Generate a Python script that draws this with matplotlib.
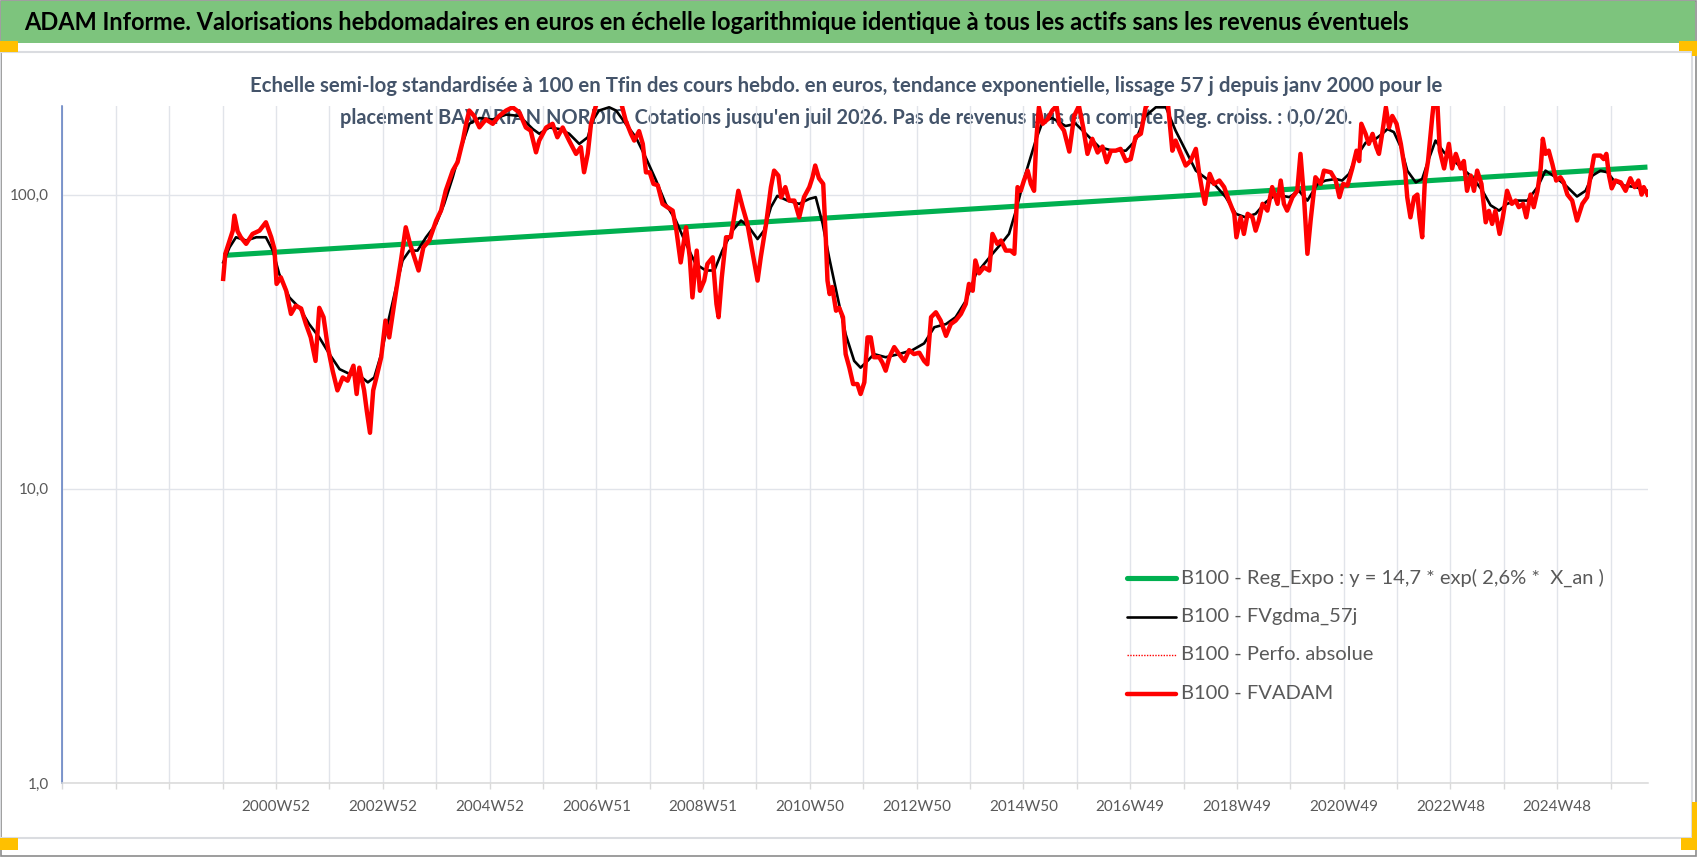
import matplotlib
matplotlib.use("Agg")
import matplotlib.pyplot as plt
from matplotlib.patches import Rectangle
from matplotlib.lines import Line2D

plt.rcParams['font.family'] = ['Lato', 'DejaVu Sans']

# ---- data (x in decimal years) ----
red_x = [2000.01, 2000.05, 2000.19, 2000.22, 2000.28, 2000.34, 2000.44, 2000.56, 2000.69, 2000.81,
         2000.91, 2000.97, 2001.01, 2001.09, 2001.19, 2001.28, 2001.37, 2001.47, 2001.56, 2001.65,
         2001.74, 2001.81, 2001.89, 2001.97, 2002.06, 2002.15, 2002.25, 2002.34, 2002.45, 2002.51,
         2002.56, 2002.65, 2002.70, 2002.76, 2002.82, 2002.88, 2002.97, 2003.05, 2003.12, 2003.25,
         2003.34, 2003.43, 2003.51, 2003.59, 2003.67, 2003.76, 2003.87, 2004.00, 2004.09, 2004.18,
         2004.31, 2004.40, 2004.50, 2004.56, 2004.62, 2004.71, 2004.81, 2004.93, 2005.06, 2005.18,
         2005.31, 2005.43, 2005.56, 2005.68, 2005.77, 2005.87, 2005.93, 2006.06, 2006.18, 2006.27,
         2006.37, 2006.49, 2006.62, 2006.71, 2006.77, 2006.84, 2006.90, 2006.99, 2007.05, 2007.15,
         2007.25, 2007.35, 2007.45, 2007.55, 2007.65, 2007.71, 2007.80, 2007.87, 2007.93, 2008.00,
         2008.07, 2008.15, 2008.24, 2008.33, 2008.43, 2008.50, 2008.58, 2008.68, 2008.75, 2008.80,
         2008.88, 2008.94, 2009.02, 2009.08, 2009.18, 2009.25, 2009.29, 2009.35, 2009.43, 2009.52,
         2009.58, 2009.66, 2009.74, 2009.83, 2009.93, 2010.02, 2010.08, 2010.18, 2010.27, 2010.33,
         2010.41, 2010.46, 2010.54, 2010.61, 2010.71, 2010.80, 2010.89, 2010.99, 2011.05, 2011.10,
         2011.17, 2011.25, 2011.30, 2011.33, 2011.37, 2011.42, 2011.49, 2011.55, 2011.62, 2011.67,
         2011.74, 2011.81, 2011.89, 2011.95, 2012.02, 2012.08, 2012.14, 2012.20, 2012.30, 2012.36,
         2012.42, 2012.49, 2012.58, 2012.67, 2012.77, 2012.86, 2012.95, 2013.05, 2013.14, 2013.20,
         2013.27, 2013.36, 2013.45, 2013.55, 2013.64, 2013.73, 2013.83, 2013.92, 2013.98, 2014.05,
         2014.10, 2014.17, 2014.26, 2014.36, 2014.42, 2014.51, 2014.58, 2014.67, 2014.76, 2014.83,
         2014.89, 2014.95, 2015.01, 2015.08, 2015.14, 2015.20, 2015.24, 2015.29, 2015.36, 2015.45,
         2015.54, 2015.62, 2015.67, 2015.76, 2015.86, 2015.95, 2016.04, 2016.12, 2016.20, 2016.29,
         2016.39, 2016.48, 2016.56, 2016.64, 2016.73, 2016.82, 2016.92, 2017.01, 2017.10, 2017.20,
         2017.29, 2017.40, 2017.50, 2017.60, 2017.70, 2017.79, 2017.85, 2017.95, 2018.04, 2018.13,
         2018.23, 2018.29, 2018.35, 2018.40, 2018.49, 2018.57, 2018.67, 2018.76, 2018.85, 2018.95,
         2018.99, 2019.07, 2019.13, 2019.20, 2019.29, 2019.35, 2019.41, 2019.48, 2019.57, 2019.66,
         2019.76, 2019.82, 2019.88, 2019.94, 2020.04, 2020.13, 2020.19, 2020.26, 2020.32, 2020.38,
         2020.47, 2020.57, 2020.63, 2020.76, 2020.85, 2020.92, 2020.99, 2021.07, 2021.16, 2021.24,
         2021.29, 2021.33, 2021.41, 2021.47, 2021.54, 2021.61, 2021.66, 2021.72, 2021.79, 2021.85,
         2021.91, 2021.99, 2022.07, 2022.15, 2022.19, 2022.25, 2022.32, 2022.38, 2022.42, 2022.47,
         2022.52, 2022.58, 2022.66, 2022.70, 2022.75, 2022.80, 2022.88, 2022.97, 2023.03, 2023.10,
         2023.19, 2023.25, 2023.31, 2023.38, 2023.44, 2023.50, 2023.58, 2023.66, 2023.72, 2023.78,
         2023.84, 2023.92, 2023.98, 2024.06, 2024.15, 2024.22, 2024.28, 2024.36, 2024.42, 2024.50,
         2024.56, 2024.63, 2024.69, 2024.73, 2024.78, 2024.84, 2024.91, 2024.98, 2025.06, 2025.12,
         2025.19, 2025.28, 2025.37, 2025.47, 2025.56, 2025.62, 2025.69, 2025.81, 2025.87, 2025.92,
         2025.97, 2026.02, 2026.09, 2026.19, 2026.28, 2026.37, 2026.45, 2026.52, 2026.58, 2026.62,
         2026.69]
red_y = [51.7, 62.9, 75.4, 84.8, 75.0, 71.6, 68.0, 73.5, 75.4, 80.5,
         71.6, 65.3, 49.7, 52.3, 47.1, 39.3, 41.9, 41.0, 36.3, 32.7,
         27.2, 41.2, 38.3, 30.3, 25.2, 21.6, 23.9, 23.3, 26.2, 21.0,
         25.8, 21.6, 18.4, 15.5, 21.6, 23.9, 28.0, 37.3, 32.7, 47.1,
         59.7, 77.4, 68.0, 61.2, 55.2, 66.2, 69.8, 81.6, 88.2, 103.2,
         120.6, 128.8, 152.6, 173.9, 193.0, 185.0, 169.3, 180.0, 174.0, 185.0,
         193.0, 198.0, 190.0, 169.0, 165.0, 139.2, 152.6, 169.0, 174.0, 156.6,
         169.0, 152.6, 137.5, 145.0, 119.1, 138.0, 174.0, 200.0, 210.0, 205.0,
         212.0, 206.0, 210.0, 178.5, 160.8, 152.6, 164.3, 148.7, 119.0, 119.0,
         108.7, 107.6, 93.0, 90.6, 88.2, 75.4, 58.8, 77.4, 61.2, 44.7,
         64.5, 47.1, 51.0, 58.1, 61.2, 42.5, 38.3, 52.3, 71.6, 71.6,
         83.7, 103.0, 90.6, 79.5, 62.9, 51.0, 61.2, 79.5, 105.9, 120.6,
         116.0, 97.9, 106.0, 95.4, 95.4, 83.7, 98.0, 106.0, 114.5, 125.5,
         113.6, 108.7, 69.8, 51.0, 45.9, 48.5, 40.3, 41.2, 38.3, 28.7,
         25.8, 22.7, 22.7, 21.0, 23.0, 32.7, 32.7, 28.0, 28.0, 26.8,
         25.2, 28.0, 30.3, 28.7, 27.2, 29.6, 28.7, 29.0, 27.2, 26.5,
         38.3, 39.8, 37.3, 33.1, 36.3, 37.3, 39.3, 42.5, 49.7, 47.1,
         59.7, 54.0, 56.6, 55.2, 73.5, 68.0, 69.8, 64.5, 64.5, 62.9,
         106.0, 103.0, 111.6, 120.6, 108.7, 103.0, 152.6, 198.0, 174.0, 180.0,
         193.0, 200.0, 174.0, 165.0, 140.0, 185.0, 200.0, 169.0, 137.5, 154.7,
         139.0, 145.6, 128.8, 141.0, 141.0, 143.0, 130.0, 132.0, 156.6, 161.0,
         198.0, 212.0, 208.0, 215.0, 210.0, 141.0, 152.6, 137.5, 125.5, 130.0,
         143.0, 119.0, 103.0, 93.0, 117.6, 108.7, 111.6, 106.0, 95.4, 86.0,
         71.6, 83.7, 73.5, 86.0, 83.7, 75.4, 81.6, 93.0, 88.2, 106.0,
         93.0, 111.6, 93.0, 88.2, 98.0, 103.0, 137.5, 95.4, 62.9, 81.6,
         114.5, 108.7, 120.6, 119.0, 111.6, 98.0, 108.7, 107.3, 122.7, 141.0,
         130.0, 174.0, 160.8, 148.7, 160.8, 145.0, 137.5, 160.8, 198.0, 169.0,
         185.0, 174.0, 148.7, 120.6, 97.9, 83.7, 98.0, 100.0, 83.7, 71.6,
         111.6, 130.0, 185.0, 215.0, 212.0, 141.0, 122.7, 148.7, 122.7, 137.5,
         122.7, 130.0, 103.0, 116.0, 103.0, 120.6, 108.7, 80.5, 88.0, 79.5,
         88.0, 73.5, 83.7, 103.0, 93.0, 95.4, 90.6, 93.0, 83.7, 100.0,
         90.6, 103.0, 122.7, 154.7, 137.5, 141.0, 126.6, 111.6, 114.5, 110.0,
         100.0, 95.4, 81.6, 93.0, 98.0, 114.5, 135.7, 135.7, 132.0, 137.5,
         116.0, 105.0, 111.6, 110.0, 103.0, 113.6, 106.0, 111.6, 100.0, 106.0,
         100.0]

black_x = [2000.01, 2000.13, 2000.25, 2000.44, 2000.63, 2000.81, 2000.94, 2001.06, 2001.25, 2001.44,
           2001.62, 2001.81, 2002.00, 2002.19, 2002.37, 2002.56, 2002.72, 2002.84, 2002.97, 2003.09,
           2003.25, 2003.37, 2003.50, 2003.65, 2003.81, 2004.00, 2004.15, 2004.31, 2004.46, 2004.62,
           2004.81, 2005.06, 2005.31, 2005.56, 2005.81, 2005.93, 2006.12, 2006.31, 2006.49, 2006.68,
           2006.84, 2006.93, 2007.05, 2007.24, 2007.37, 2007.55, 2007.74, 2007.93, 2008.12, 2008.30,
           2008.49, 2008.68, 2008.86, 2009.05, 2009.21, 2009.36, 2009.55, 2009.71, 2009.86, 2010.02,
           2010.14, 2010.27, 2010.39, 2010.58, 2010.80, 2010.99, 2011.11, 2011.24, 2011.36, 2011.52,
           2011.67, 2011.83, 2011.95, 2012.08, 2012.20, 2012.42, 2012.67, 2012.92, 2013.14, 2013.33,
           2013.55, 2013.73, 2013.92, 2014.11, 2014.42, 2014.61, 2014.73, 2014.86, 2015.04, 2015.23,
           2015.36, 2015.54, 2015.79, 2015.98, 2016.17, 2016.42, 2016.67, 2016.92, 2017.10, 2017.29,
           2017.48, 2017.67, 2017.85, 2018.04, 2018.23, 2018.42, 2018.60, 2018.79, 2018.98, 2019.16,
           2019.35, 2019.54, 2019.73, 2019.98, 2020.16, 2020.32, 2020.51, 2020.66, 2020.85, 2020.97,
           2021.10, 2021.22, 2021.41, 2021.60, 2021.72, 2021.82, 2021.94, 2022.07, 2022.19, 2022.35,
           2022.47, 2022.60, 2022.72, 2022.88, 2023.03, 2023.22, 2023.41, 2023.60, 2023.75, 2023.91,
           2024.06, 2024.25, 2024.44, 2024.63, 2024.78, 2024.97, 2025.16, 2025.37, 2025.53, 2025.66,
           2025.81, 2025.94, 2026.06, 2026.25, 2026.47, 2026.69]
black_y = [58.8, 66.2, 71.6, 69.8, 71.6, 71.6, 64.5, 53.7, 44.7, 41.2,
           36.3, 32.7, 28.7, 25.5, 24.6, 24.3, 23.0, 23.9, 28.7, 36.3,
           48.5, 59.7, 64.5, 64.5, 71.6, 79.5, 93.0, 114.5, 143.0, 174.0,
           182.0, 180.0, 187.0, 185.0, 167.0, 161.0, 169.0, 167.0, 161.0, 148.7,
           156.6, 178.5, 193.0, 198.0, 193.0, 174.0, 156.6, 133.0, 111.6, 93.0,
           81.6, 68.0, 58.1, 55.2, 55.2, 64.5, 75.4, 81.6, 77.4, 70.6,
           75.4, 90.6, 99.0, 95.4, 93.0, 96.7, 98.0, 79.5, 61.2, 44.7,
           33.5, 27.2, 25.8, 27.2, 28.7, 28.0, 28.7, 29.6, 31.2, 35.4,
           36.3, 38.3, 43.5, 53.7, 62.9, 69.0, 73.5, 88.2, 117.6, 152.6,
           177.0, 182.0, 171.0, 174.0, 161.0, 145.0, 141.0, 141.0, 152.6, 185.0,
           198.0, 198.0, 165.0, 141.0, 120.6, 113.6, 107.3, 98.0, 86.0, 83.7,
           86.0, 94.2, 100.0, 98.0, 103.0, 95.4, 108.7, 111.6, 113.0, 111.6,
           117.6, 133.0, 150.0, 154.7, 160.8, 167.0, 163.0, 145.0, 120.6, 110.0,
           113.0, 133.0, 152.6, 139.0, 132.0, 122.7, 114.5, 103.0, 92.0, 88.2,
           93.0, 95.4, 95.4, 106.0, 120.6, 114.5, 107.3, 98.5, 103.0, 116.0,
           120.6, 119.0, 111.6, 107.3, 106.0, 103.0]

green_x = [2000.01, 2026.69]
green_y = [62.1, 124.0]

xtick_labels = ['2000W52', '2002W52', '2004W52', '2006W51', '2008W51', '2010W50', '2012W50',
                '2014W50', '2016W49', '2018W49', '2020W49', '2022W48', '2024W48']
ytick_vals = [1, 10, 100]
ytick_labels = ['1,0', '10,0', '100,0']

legend_labels = ['B100 - Reg_Expo : y = 14,7 * exp( 2,6% *  X_an )',
                 'B100 - FVgdma_57j',
                 'B100 - Perfo. absolue',
                 'B100 - FVADAM']

title = ("ADAM Informe. Valorisations hebdomadaires en euros en échelle logarithmique "
         "identique à tous les actifs sans les revenus éventuels")
sub1 = ("Echelle semi-log standardisée à 100 en Tfin des cours hebdo. en euros, tendance "
        "exponentielle, lissage 57 j depuis janv 2000 pour le")
sub2 = ("placement BAVARIAN NORDIC. Cotations jusqu'en juil 2026. Pas de revenus pris en "
        "compte. Reg. croiss. : 0,0/20.")

W, H = 1698, 857
GREEN = '#00B050'
RED = '#FF0000'
GRID = '#E1E4EA'
TXT = '#595959'

fig = plt.figure(figsize=(W / 100, H / 100), dpi=100)
fig.patch.set_facecolor('white')


def box(x0, y0, x1, y1, **kw):
    # rectangle given in pixel coords (origin top-left)
    r = Rectangle((x0 / W, 1 - y1 / H), (x1 - x0) / W, (y1 - y0) / H,
                  transform=fig.transFigure, **kw)
    fig.add_artist(r)
    return r


def fit(t, width):
    r = fig.canvas.get_renderer()
    w = t.get_window_extent(r).width
    t.set_fontsize(t.get_fontsize() * width / w)


# frame decorations
box(1, 1, 1696, 856, facecolor='none', edgecolor='#8C8C8C', lw=1.2, zorder=-3)
box(1, 1.5, 1695, 43, facecolor='#7DC47D', edgecolor='none', zorder=-3)
box(0, 51.5, 1692, 838, facecolor='none', edgecolor='#DADCE0', lw=1.5, zorder=-3)
for x0, y0, x1, y1 in [(0, 41, 18, 52), (1679, 41, 1695, 51), (1692, 41, 1697, 56),
                       (0, 838, 18, 850), (1681, 838, 1696, 850), (1692, 802, 1697, 850)]:
    box(x0, y0, x1, y1, facecolor='#FFC000', edgecolor='none', zorder=-2)

t = fig.text(24 / W, 1 - 23 / H, title, fontsize=17, fontweight='bold', color='black',
             ha='left', va='center')
fit(t, 1388)
s1 = fig.text(846 / W, 1 - 86 / H, sub1, fontsize=14, fontweight='bold', color='#44546A',
              ha='center', va='center', zorder=-1)
fit(s1, 1195)
s2 = fig.text(846 / W, 1 - 118 / H, sub2, fontsize=14, fontweight='bold', color='#44546A',
              ha='center', va='center', zorder=-1)
fit(s2, 1016)

# plot area
ax = fig.add_axes([62.5 / W, 1 - 783 / H, (1648 - 62.5) / W, (783 - 106) / H])
ax.set_facecolor('none')
ax.plot(green_x, green_y, color=GREEN, lw=3.7, solid_capstyle='butt', zorder=3)
ax.plot(black_x, black_y, color='black', lw=1.9, zorder=4)
ax.plot(red_x, red_y, color=RED, lw=1.0, ls=':', zorder=5)
ax.plot(red_x, red_y, color=RED, lw=3.2, zorder=6)

ax.set_yscale('log')
ax.set_ylim(1, 200)
ax.set_xlim(1997.0, 2026.7)
ax.set_yticks(ytick_vals)
ax.set_yticklabels(ytick_labels)
ax.yaxis.set_minor_locator(matplotlib.ticker.NullLocator())
years = list(range(1997, 2027))
ax.set_xticks(years)
ax.set_xticklabels([xtick_labels[(y - 2001) // 2] if y >= 2001 and (y - 2001) % 2 == 0 else ''
                    for y in years])
ax.grid(True, which='major', color=GRID, lw=1.0, zorder=0)
ax.set_axisbelow(True)
for side in ['top', 'right']:
    ax.spines[side].set_visible(False)
ax.spines['left'].set_color('#5B7BC0')
ax.spines['left'].set_linewidth(1.1)
ax.spines['bottom'].set_color('#D9D9D9')
ax.spines['bottom'].set_linewidth(1.1)
ax.tick_params(axis='y', length=0, pad=10, labelsize=11, labelcolor=TXT)
ax.tick_params(axis='x', length=4, width=1.0, color='#D9D9D9', pad=8, labelsize=11,
               labelcolor=TXT)

# legend drawn in pixel coords
styles = [dict(color=GREEN, lw=3.7), dict(color='black', lw=1.9),
          dict(color=RED, lw=1.0, ls=(0, (1, 1))), dict(color=RED, lw=3.2)]
for i, (lab, st) in enumerate(zip(legend_labels, styles)):
    yy = 1 - (578 + i * 38.5) / H
    fig.add_artist(Line2D([1127 / W, 1176 / W], [yy, yy], transform=fig.transFigure,
                          solid_capstyle='round', **st))
    lt = fig.text(1181 / W, yy, lab, fontsize=15, color=TXT, ha='left', va='center')
    if i == 0:
        fit(lt, 424)
        leg_fs = lt.get_fontsize()
    else:
        lt.set_fontsize(leg_fs)

fig.savefig('out.png', dpi=100)
